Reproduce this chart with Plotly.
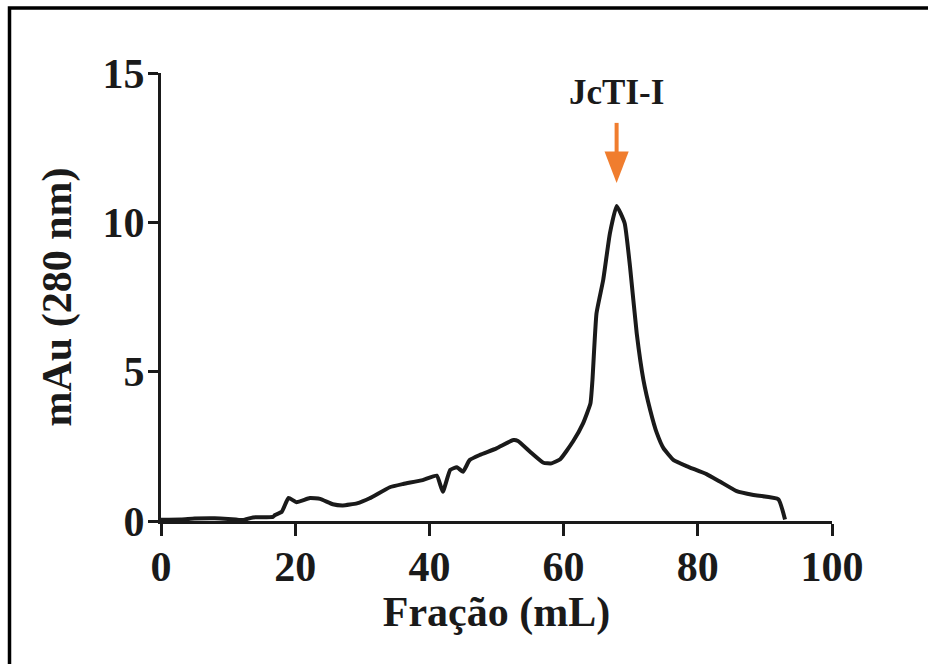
import plotly.graph_objects as go

# Data
volume_ml = [0, 3, 5, 8, 10, 12.2, 13.7, 16.7, 17.0, 18.0, 19.0, 20.2, 22.2, 23.7, 25.6, 27.1,
             29.2, 31.1, 34.1, 36.1, 39.0, 41.1, 42.0, 43.1, 44.1, 45.0, 46.0, 47.5, 50.0,
             52.5, 53.2, 55.0, 57.0, 58.2, 59.5, 61.4, 62.9, 64.0, 64.3, 64.9, 65.9, 66.9,
             67.9, 69.1, 69.9, 70.9, 71.9, 72.9, 73.9, 74.9, 76.4, 78.3, 81.3, 83.3, 85.8,
             88.3, 92.0, 93.0]
mau_280 = [0.04, 0.05, 0.08, 0.09, 0.07, 0.03, 0.12, 0.14, 0.2, 0.31, 0.77, 0.63, 0.77, 0.74,
           0.56, 0.52, 0.59, 0.76, 1.13, 1.24, 1.37, 1.52, 0.98, 1.71, 1.80, 1.65, 2.04, 2.21,
           2.43, 2.71, 2.68, 2.32, 1.95, 1.93, 2.07, 2.66, 3.27, 3.94, 4.72, 6.95, 8.07, 9.63,
           10.55, 9.97, 8.51, 6.28, 4.72, 3.72, 2.94, 2.43, 2.04, 1.84, 1.57, 1.32, 1.00,
           0.87, 0.73, 0.05]
x_ticks = [0, 20, 40, 60, 80, 100]
y_ticks = [0, 5, 10, 15]
peak_label = "JcTI-I"

FONT = "Liberation Serif, Times New Roman, serif"
INK = "#1a1a1a"
ORANGE = "#F07D2E"

fig = go.Figure()
fig.add_trace(go.Scatter(x=volume_ml, y=mau_280, mode="lines",
                         line=dict(color=INK, width=4, shape="spline", smoothing=0.4),
                         hoverinfo="skip"))

# Peak arrow positioned relative to the data maximum
ipk = max(range(len(mau_280)), key=lambda i: mau_280[i])
px_, py_ = volume_ml[ipk], mau_280[ipk]
tip, base, top = py_ + 0.77, py_ + 1.82, py_ + 2.78
hw = 1.8
fig.add_shape(type="line", x0=px_, x1=px_, y0=base - 0.05, y1=top,
              line=dict(color=ORANGE, width=4))
fig.add_shape(type="path",
              path=f"M {px_ - hw} {base} L {px_ + hw} {base} L {px_} {tip} Z",
              fillcolor=ORANGE, line=dict(color=ORANGE, width=0))
fig.add_annotation(x=px_, y=py_ + 3.8, text=peak_label, showarrow=False,
                   font=dict(family=FONT, size=35, color=INK, weight="bold"),
                   xanchor="center", yanchor="middle")

# Outer frame (left and top edges visible, others clipped by the page)
L, T, W, H = 161, 73, 671, 448
def paper_x(px): return (px - L) / W
def paper_y(py): return (T + H - py) / H
fig.add_shape(type="rect", xref="paper", yref="paper",
              x0=paper_x(9.5), x1=paper_x(945), y0=paper_y(690), y1=paper_y(8),
              line=dict(color="black", width=3.5), fillcolor="rgba(0,0,0,0)", layer="below")

axis_common = dict(showgrid=False, zeroline=False, showline=True, linecolor=INK,
                   linewidth=3.2, ticks="outside", tickwidth=3.2, tickcolor=INK,
                   tickfont=dict(family=FONT, size=42, color=INK, weight="bold"))

fig.update_layout(
    width=928, height=664,
    margin=dict(l=L, r=928 - L - W, t=T, b=664 - T - H),
    paper_bgcolor="white", plot_bgcolor="white",
    showlegend=False,
    xaxis=dict(range=[0, 100], tickvals=x_ticks, ticklen=12, ticklabelstandoff=-6,
               title=dict(text="Fração (mL)", standoff=4,
                          font=dict(family=FONT, size=42, color=INK, weight="bold")),
               **axis_common),
    yaxis=dict(range=[0, 15], tickvals=y_ticks, ticklen=10, ticklabelstandoff=-5,
               title=dict(text="mAu (280 nm)", standoff=18,
                          font=dict(family=FONT, size=42, color=INK, weight="bold")),
               **axis_common),
)

fig.write_html("out.html")
